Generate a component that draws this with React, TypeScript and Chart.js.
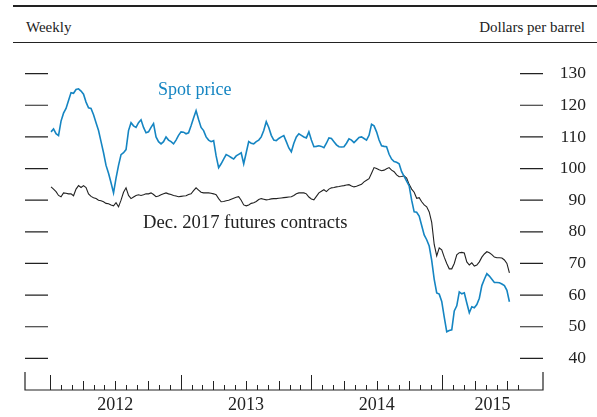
import React, { useEffect, useRef } from "react";
import { Chart, registerables } from "chart.js";

Chart.register(...registerables);

// ---- Data -------------------------------------------------------------
const WEEK_START = "2012-01-04"; // first weekly observation

// Brent spot price, dollars per barrel, weekly
const SPOT_PRICE = [
  111.6, 112.5, 111, 110.4, 115, 117.5, 119, 121.5, 124, 123.8,
  125, 125.2, 124.5, 123.5, 121, 119.2, 119, 117, 114.5, 112,
  108.5, 105, 101, 98.5, 95.5, 92.3, 97, 101, 104.4, 105,
  106, 112, 114.5, 113.5, 113, 114.5, 115.4, 113, 111.3, 111.6,
  113, 114.2, 110, 108.5, 107.8, 108.5, 110, 109, 108.5, 107.8,
  109, 110.5, 111.6, 111.5, 111, 111.3, 113.5, 116, 118.3, 115.5,
  113, 112, 110, 109, 108.5, 108.8, 104, 100.3, 101.5, 103,
  104.4, 104, 103.5, 103, 104, 104.5, 105, 101.5, 105, 108.5,
  108, 107.8, 108.5, 109, 110, 112, 114.8, 113, 110.5, 109,
  108.8, 109.5, 110, 110.4, 108.5, 106.5, 105.3, 108, 110, 111,
  110.5, 110, 109.7, 111.6, 109, 106.9, 107, 107.2, 107, 106.6,
  108, 109.7, 109.5, 108.5, 107.5, 106.9, 106.8, 106.9, 108, 109.4,
  109, 108.2, 109, 109.8, 110, 109.5, 109, 110.5, 114, 113.5,
  111.6, 109, 107.2, 107, 106.9, 104.5, 103, 102.2, 102, 101.5,
  99, 97.5, 96, 94.5, 90, 86.3, 86.2, 85, 82, 79,
  77.5, 75.5, 71, 65, 60.7, 60.3, 58, 53, 48.4, 48.8,
  49, 55, 56.6, 61, 60.4, 60.7, 57.5, 54.4, 56.3, 56,
  57, 59, 63, 65, 66.8, 66, 65, 64, 64, 63.9,
  63.5, 63, 61.5, 57.9,
];

// Dec. 2017 futures contracts, dollars per barrel, weekly
const FUTURES_DEC2017 = [
  94.2, 93.5, 92.7, 91.5, 91.1, 92.3, 92.2, 92, 92, 91.4,
  93.5, 94.6, 94, 94.6, 94, 92, 91.2, 90.8, 90.5, 90,
  89.8, 89.5, 89, 88.9, 88.5, 88.2, 89.2, 87.9, 90, 92.5,
  93.9, 91.5, 90.5, 91, 91.5, 91.7, 91.5, 91.7, 92, 92,
  92.3, 91.8, 91.1, 91.3, 91.7, 92, 92.3, 92, 91.8, 91.5,
  91.3, 91.1, 91.2, 91.3, 91.4, 91.8, 92, 93, 93.9, 93.2,
  92.5, 92.3, 92.3, 92.3, 92.2, 92, 91.7, 90.5, 89.5, 89.6,
  89.8, 90, 90.3, 90.6, 90.9, 91.1, 90, 88.5, 88.2, 88.5,
  89, 89.2, 89.6, 90.2, 90.5, 90.3, 90.1, 90.2, 90.4, 90.5,
  90.5, 90.6, 90.7, 90.8, 90.9, 91, 91.1, 91.5, 92, 92.3,
  92.3, 92.3, 92, 91, 90.4, 90.1, 91.2, 92.3, 92.8, 93.3,
  92.7, 93.5, 93.9, 94, 94.2, 94.3, 94.5, 94.6, 94.8, 94.9,
  94.5, 94.2, 94.4, 94.7, 95, 95.8, 96.3, 96.8, 98.5, 100.3,
  100, 99.6, 99.3, 99.5, 99.9, 100.3, 99.5, 99, 98, 97.4,
  97.5, 97.7, 97, 95, 93.5, 92.5, 90.6, 90.8, 89.5, 88.5,
  87.9, 86.3, 83, 76, 72.4, 74.9, 74.3, 72, 70, 68.3,
  68.3, 70, 72.7, 73.4, 73.5, 73.3, 70.5, 69.5, 70.2, 69.2,
  69.5, 70.5, 72, 73, 73.7, 73.4, 72.8, 72, 71.8, 71.8,
  71.7, 71.1, 70, 67,
];

const Y_TICKS = [40, 50, 60, 70, 80, 90, 100, 110, 120, 130];
const YEAR_LABELS = [2012, 2013, 2014, 2015];
const LAST_MONTH_TICK = { year: 2015, month: 7 }; // August 2015

const X_MIN = 2011.809;
const X_MAX = 2015.772;
const Y_MIN = 30;
const Y_MAX = 140;

const SPOT_LABEL = { text: "Spot price", x: 2012.826, y: 123.2 };
const FUTURES_LABEL = { text: "Dec. 2017 futures contracts", x: 2012.712, y: 81.2 };

// ---- Styles -----------------------------------------------------------
const BLUE = "#1585c2";
const INK = "#222222";
const SERIF = '"Liberation Serif", "Times New Roman", serif';
const Y_LABEL_RIGHT = 586;

function toFracYear(ms: number): number {
  const d = new Date(ms);
  const y = d.getUTCFullYear();
  const s = Date.UTC(y, 0, 1);
  const e = Date.UTC(y + 1, 0, 1);
  return y + (ms - s) / (e - s);
}

const START_MS = Date.parse(WEEK_START + "T00:00:00Z");
const WEEKS = SPOT_PRICE.map((_, i) => toFracYear(START_MS + i * 7 * 86400000));

const framePlugin = {
  id: "fedFrame",
  beforeDatasetsDraw(chart: any) {
    const { ctx, chartArea: a, scales } = chart;
    const x = scales.x;
    const y = scales.y;
    ctx.save();
    ctx.strokeStyle = INK;
    ctx.lineWidth = 1.2;
    ctx.beginPath();
    for (const v of Y_TICKS) {
      const py = y.getPixelForValue(v);
      ctx.moveTo(a.left, py);
      ctx.lineTo(a.left + 23, py);
      ctx.moveTo(a.right - 23, py);
      ctx.lineTo(a.right, py);
    }
    ctx.stroke();

    // x axis baseline with end posts
    ctx.beginPath();
    ctx.moveTo(a.left, a.bottom - 18);
    ctx.lineTo(a.left, a.bottom);
    ctx.lineTo(a.right, a.bottom);
    ctx.lineTo(a.right, a.bottom - 18);
    ctx.stroke();

    // month / quarter / year ticks
    ctx.lineWidth = 1;
    ctx.beginPath();
    for (let yr = YEAR_LABELS[0]; yr <= LAST_MONTH_TICK.year; yr++) {
      for (let m = 0; m < 12; m++) {
        if (yr === LAST_MONTH_TICK.year && m > LAST_MONTH_TICK.month) break;
        const px = Math.round(x.getPixelForValue(yr + m / 12)) + 0.5;
        const h = m === 0 ? 15 : m % 3 === 0 ? 9 : 5;
        ctx.moveTo(px, a.bottom);
        ctx.lineTo(px, a.bottom - h);
      }
    }
    ctx.stroke();
    ctx.restore();
  },
  afterDatasetsDraw(chart: any) {
    const { ctx, chartArea: a, scales } = chart;
    const x = scales.x;
    const y = scales.y;
    ctx.save();
    ctx.fillStyle = INK;

    // y-axis value labels (right side)
    ctx.font = "17.5px " + SERIF;
    ctx.textAlign = "right";
    ctx.textBaseline = "middle";
    for (const v of Y_TICKS) {
      ctx.fillText(String(v), Y_LABEL_RIGHT, y.getPixelForValue(v));
    }

    // year labels
    ctx.font = "18px " + SERIF;
    ctx.textAlign = "center";
    ctx.textBaseline = "alphabetic";
    for (const yr of YEAR_LABELS) {
      const lo = Math.max(yr, X_MIN);
      const hi = Math.min(yr + 1, X_MAX);
      ctx.fillText(String(yr), x.getPixelForValue((lo + hi) / 2), a.bottom + 20);
    }

    // series annotations
    ctx.textAlign = "left";
    ctx.fillStyle = BLUE;
    ctx.font = "18px " + SERIF;
    ctx.fillText(SPOT_LABEL.text, x.getPixelForValue(SPOT_LABEL.x), y.getPixelForValue(SPOT_LABEL.y));
    ctx.fillStyle = INK;
    ctx.font = "18.6px " + SERIF;
    ctx.fillText(FUTURES_LABEL.text, x.getPixelForValue(FUTURES_LABEL.x), y.getPixelForValue(FUTURES_LABEL.y));
    ctx.restore();
  },
};

export default function App() {
  const canvasRef = useRef<HTMLCanvasElement | null>(null);

  useEffect(() => {
    const canvas = canvasRef.current;
    if (!canvas) return;
    const chart = new Chart(canvas, {
      type: "line",
      data: {
        datasets: [
          {
            label: "Spot price",
            data: WEEKS.map((w, i) => ({ x: w, y: SPOT_PRICE[i] })),
            borderColor: BLUE,
            borderWidth: 1.6,
            pointRadius: 0,
            tension: 0,
            fill: false,
          },
          {
            label: "Dec. 2017 futures contracts",
            data: WEEKS.map((w, i) => ({ x: w, y: FUTURES_DEC2017[i] })),
            borderColor: INK,
            borderWidth: 1.1,
            pointRadius: 0,
            tension: 0,
            fill: false,
          },
        ],
      },
      options: {
        animation: false,
        responsive: false,
        devicePixelRatio: 1,
        layout: { padding: { left: 25, right: 54, top: 42, bottom: 27 } },
        plugins: { legend: { display: false }, tooltip: { enabled: false } },
        scales: {
          x: { type: "linear", min: X_MIN, max: X_MAX, display: false },
          y: { type: "linear", position: "right", min: Y_MIN, max: Y_MAX, display: false },
        },
      },
      plugins: [framePlugin],
    } as any);
    return () => chart.destroy();
  }, []);

  return (
    <div
      style={{
        position: "absolute",
        left: 0,
        top: 0,
        width: 597,
        height: 417,
        background: "#fff",
        fontFamily: SERIF,
      }}
    >
      <div style={{ position: "absolute", left: 13, top: 5, width: 584, height: 2, background: INK }} />
      <span
        style={{ position: "absolute", left: 26, top: 20, fontSize: 15, lineHeight: "15px", color: INK, whiteSpace: "nowrap" }}
      >
        Weekly
      </span>
      <span
        style={{ position: "absolute", right: 12, top: 20, fontSize: 15, lineHeight: "15px", color: INK, whiteSpace: "nowrap" }}
      >
        Dollars per barrel
      </span>
      <div style={{ position: "absolute", left: 13, top: 41.5, width: 584, height: 1, background: INK }} />
      <canvas
        ref={canvasRef}
        width={597}
        height={417}
        style={{ position: "absolute", left: 0, top: 0, width: 597, height: 417 }}
      />
    </div>
  );
}
